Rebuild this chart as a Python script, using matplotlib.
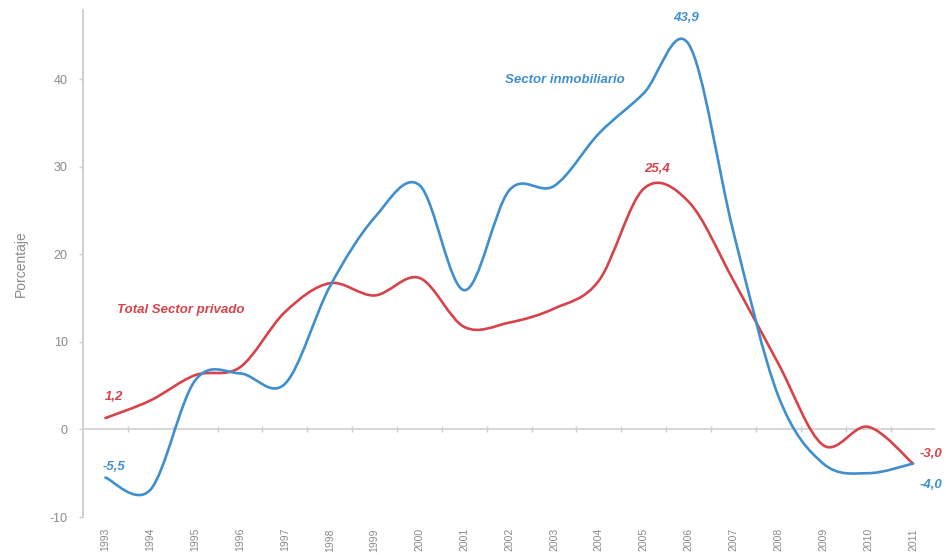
import matplotlib
matplotlib.use("Agg")
import matplotlib.pyplot as plt
from matplotlib.path import Path
from matplotlib.patches import PathPatch
import numpy as np

plt.rcParams['font.family'] = ['Liberation Sans', 'DejaVu Sans']
plt.rcParams['axes.unicode_minus'] = False

years = list(range(1993, 2012))
privado = [1.3, 3.3, 6.2, 7.1, 13.4, 16.7, 15.3, 17.3, 11.7, 12.2, 13.8,
           17.0, 27.5, 26.0, 17.0, 7.5, -1.8, 0.3, -3.9]
inmobiliario = [-5.5, -6.9, 5.6, 6.4, 5.2, 16.3, 24.2, 27.9, 15.9, 27.3,
                27.8, 33.8, 38.4, 44.0, 22.5, 3.8, -3.9, -5.0, -3.9]

RED = "#D7434B"
BLUE = "#3F8FCF"
GREY = "#8A8A8A"
AXIS = "#CFCFCF"


def smooth_path(xs, ys):
    # Excel-like smoothed line: cubic bezier through every point
    pts = np.column_stack([xs, ys]).astype(float)
    ext = np.vstack([pts[0], pts, pts[-1]])
    verts = [pts[0]]
    codes = [Path.MOVETO]
    for i in range(len(pts) - 1):
        p0, p1, p2, p3 = ext[i], ext[i + 1], ext[i + 2], ext[i + 3]
        c1 = p1 + (p2 - p0) / 6.0
        c2 = p2 - (p3 - p1) / 6.0
        verts += [c1, c2, p2]
        codes += [Path.CURVE4] * 3
    return Path(verts, codes)


fig = plt.figure(figsize=(9.46, 5.55), dpi=100)
ax = fig.add_axes([83 / 946, 38 / 555, (935.4 - 83) / 946, 507 / 555])

for series, color in [(privado, RED), (inmobiliario, BLUE)]:
    ax.add_patch(PathPatch(smooth_path(years, series), facecolor="none",
                           edgecolor=color, linewidth=1.9, capstyle="round",
                           joinstyle="round"))

ax.set_xlim(1992.5, 2011.5)
ax.set_ylim(-10, 47.9)

# zero line with category boundary ticks
ax.axhline(0, color=AXIS, linewidth=1.2, zorder=0)
bounds = [y - 0.5 for y in years[1:]]
ax.plot(bounds, [0] * len(bounds), linestyle="none", marker="|",
        markersize=4, color=AXIS, markeredgewidth=1.0, zorder=0)

for side in ["top", "right", "bottom"]:
    ax.spines[side].set_visible(False)
ax.spines["left"].set_color(AXIS)
ax.spines["left"].set_linewidth(1.4)

ax.set_yticks([-10, 0, 10, 20, 30, 40])
ax.tick_params(axis="y", colors=AXIS, length=3, width=1, labelsize=9,
               labelcolor=GREY, pad=8)
ax.set_xticks(years)
ax.set_xticklabels([str(y) for y in years], rotation=90, va="top")
ax.tick_params(axis="x", length=0, labelsize=7.5, labelcolor=GREY, pad=8)
ax.set_ylabel("Porcentaje", color=GREY, fontsize=10, labelpad=16)

lab = dict(fontweight="bold", fontstyle="italic", fontsize=9.5)
ax.text(2003.25, 39.9, "Sector inmobiliario", color=BLUE, ha="center",
        va="center", **lab)
ax.text(1994.68, 13.6, "Total Sector privado", color=RED, ha="center",
        va="center", **lab)
ax.text(2005.95, 47.0, "43,9", color=BLUE, ha="center", va="center", **lab)
ax.text(2005.3, 29.7, "25,4", color=RED, ha="center", va="center", **lab)
ax.text(1993.2, 3.7, "1,2", color=RED, ha="center", va="center", **lab)
ax.text(1993.2, -4.3, "-5,5", color=BLUE, ha="center", va="center", **lab)
ax.text(2011.15, -2.8, "-3,0", color=RED, ha="left", va="center",
        clip_on=False, **lab)
ax.text(2011.15, -6.3, "-4,0", color=BLUE, ha="left", va="center",
        clip_on=False, **lab)

fig.savefig("out.png", dpi=100)
